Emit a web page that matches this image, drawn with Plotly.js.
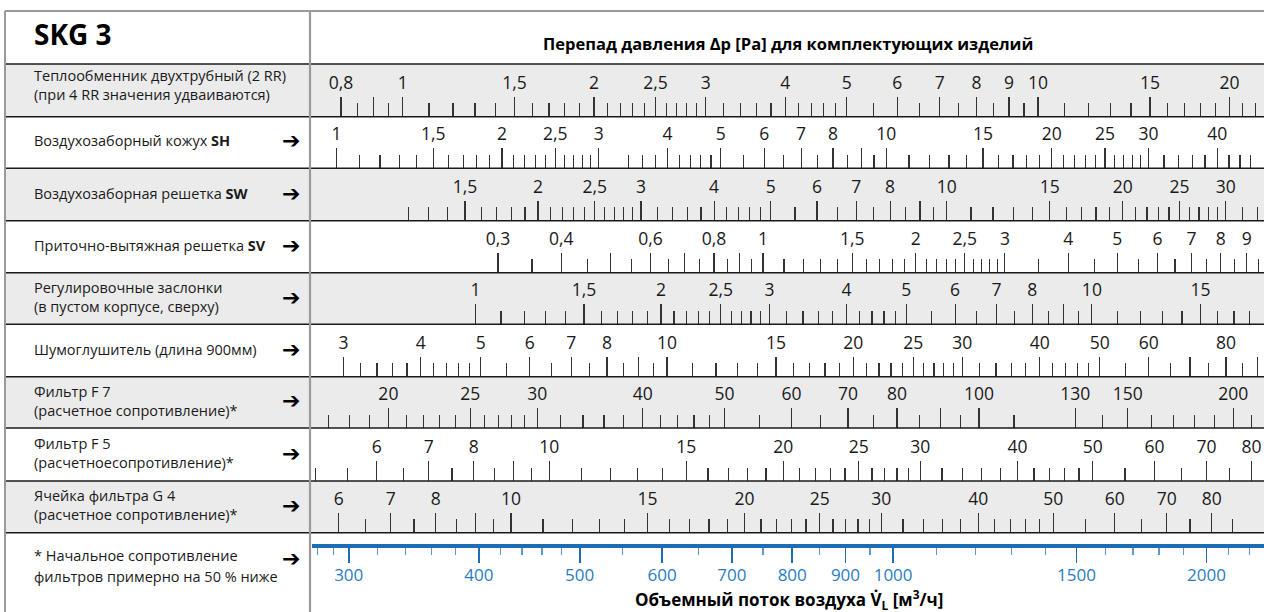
<!DOCTYPE html>
<html><head><meta charset="utf-8">
<script src="https://cdn.plot.ly/plotly-3.0.1.min.js"></script>
<style>html,body{margin:0;padding:0;background:#fff;overflow:hidden}#chart{width:1264px;height:612px}</style>
</head><body><div id="chart"></div>
<script>
// ---------------- DATA ----------------
// Flow axis (air volume flow, m3/h)
const flowWindow = [276.6, 2271];
const flowTicks  = [300, 400, 500, 600, 700, 800, 900, 1000, 1500, 2000];
const flowLabels = ['300','400','500','600','700','800','900','1000','1500','2000'];
const flowMinor  = [280,290,320,340,360,380,420,440,460,480,550,650,750,850,950,1100,1200,1300,1400,1600,1700,1800,1900,2100,2200];

// Row names (left column)
const rowNames = [
  'Теплообменник двухтрубный (2 RR)<br>(при 4 RR значения удваиваются)',
  'Воздухозаборный кожух <b>SH</b>',
  'Воздухозаборная решетка <b>SW</b>',
  'Приточно-вытяжная решетка <b>SV</b>',
  'Регулировочные заслонки<br>(в пустом корпусе, сверху)',
  'Шумоглушитель (длина 900мм)',
  'Фильтр F 7<br>(расчетное сопротивление)*',
  'Фильтр F 5<br>(расчетноесопротивление)*',
  'Ячейка фильтра G 4<br>(расчетное сопротивление)*'
];
const rowArrows = [false, true, true, true, true, true, true, true, true];
const footLines = ['* Начальное сопротивление', 'фильтров примерно на 50 % ниже'];
const titleText = 'Перепад давления Δp [Pa] для комплектующих изделий';
const unitTitle = 'SKG 3';
const flowTitle = 'Объемный поток воздуха V̇<sub>L</sub> [м<sup>3</sup>/ч]';

// Each scale: labelled long ticks, their labels, unlabelled long ticks, short ticks,
// and a match [value1, flow1, value2, flow2] tying the scale to the flow axis
const hxTicks  = [0.8,1,1.5,2,2.5,3,4,5,6,7,8,9,10,15,20];
const hxLabels = ['0,8','1','1,5','2','2,5','3','4','5','6','7','8','9','10','15','20'];
const hxLong   = [0.9];
const hxMinor  = [0.85,0.95,1.1,1.2,1.3,1.4,1.6,1.7,1.8,1.9,2.1,2.2,2.3,2.4,2.6,2.7,2.8,2.9,3.2,3.4,3.6,3.8,4.2,4.4,4.6,4.8,5.5,6.5,7.5,8.5,9.5,11,12,13,14,16,17,18,19,21,22];
const hxMatch  = [1, 338, 10, 1378];

const shTicks  = [1,1.5,2,2.5,3,4,5,6,7,8,10,15,20,25,30,40];
const shLabels = ['1','1,5','2','2,5','3','4','5','6','7','8','10','15','20','25','30','40'];
const shLong   = [9];
const shMinor  = [1.1,1.2,1.3,1.4,1.6,1.7,1.8,1.9,2.1,2.2,2.3,2.4,2.6,2.7,2.8,2.9,3.4,3.6,3.8,4.2,4.4,4.6,4.8,5.5,6.5,7.5,8.5,9.5,11,12,13,14,16,17,18,19,21,22,23,24,26,27,28,29,32,34,36,38,42,44,46];
const shMatch  = [1, 292, 10, 985];

const swTicks  = [1.5,2,2.5,3,4,5,6,7,8,10,15,20,25,30];
const swLabels = ['1,5','2','2,5','3','4','5','6','7','8','10','15','20','25','30'];
const swLong   = [9];
const swMinor  = [1.2,1.3,1.4,1.6,1.7,1.8,1.9,2.1,2.2,2.3,2.4,2.6,2.7,2.8,2.9,3.2,3.4,3.6,3.8,4.2,4.4,4.6,4.8,5.5,6.5,7.5,8.5,9.5,11,12,13,14,16,17,18,19,21,22,23,24,26,27,28,29,32,34];
const swMatch  = [1, 309, 10, 1126];

const svTicks  = [0.3,0.4,0.6,0.8,1,1.5,2,2.5,3,4,5,6,7,8,9];
const svLabels = ['0,3','0,4','0,6','0,8','1','1,5','2','2,5','3','4','5','6','7','8','9'];
const svLong   = [0.5,0.7,0.9];
const svMinor  = [0.35,0.45,0.55,0.65,0.75,0.85,0.95,1.1,1.2,1.3,1.4,1.6,1.7,1.8,1.9,2.1,2.2,2.3,2.4,2.6,2.7,2.8,2.9,3.5,4.5,5.5,6.5,7.5,8.5,9.5];
const svMatch  = [1, 750, 10, 2301];

const rkTicks  = [1,1.5,2,2.5,3,4,5,6,7,8,10,15];
const rkLabels = ['1','1,5','2','2,5','3','4','5','6','7','8','10','15'];
const rkLong   = [9];
const rkMinor  = [1.1,1.2,1.3,1.4,1.6,1.7,1.8,1.9,2.1,2.2,2.3,2.4,2.6,2.7,2.8,2.9,3.2,3.4,3.6,3.8,4.2,4.4,4.6,4.8,5.5,6.5,7.5,8.5,9.5,11,12,13,14,16,17,18];
const rkMatch  = [1, 397, 10, 1552];

const sdTicks  = [3,4,5,6,7,8,10,15,20,25,30,40,50,60,80];
const sdLabels = ['3','4','5','6','7','8','10','15','20','25','30','40','50','60','80'];
const sdLong   = [9,70,90];
const sdMinor  = [3.2,3.4,3.6,3.8,4.2,4.4,4.6,4.8,5.5,6.5,7.5,8.5,9.5,11,12,13,14,16,17,18,19,21,22,23,24,26,27,28,29,32,34,36,38,42,44,46,48,55,65,75,85];
const sdMatch  = [10, 606.5, 100, 2384];

const f7Ticks  = [20,25,30,40,50,60,70,80,100,130,150,200];
const f7Labels = ['20','25','30','40','50','60','70','80','100','130','150','200'];
const f7Long   = [90];
const f7Minor  = [17,18,19,21,22,23,24,26,27,28,29,32,34,36,38,42,44,46,48,55,65,75,85,95,110,140,160,170,180,190,210];
const f7Match  = [10, 186.6, 100, 1209];

const f5Ticks  = [6,7,8,10,15,20,25,30,40,50,60,70,80];
const f5Labels = ['6','7','8','10','15','20','25','30','40','50','60','70','80'];
const f5Long   = [9];
const f5Minor  = [5,5.5,6.5,7.5,8.5,9.5,11,12,13,14,16,17,18,19,21,22,23,24,26,27,28,29,32,34,36,38,42,44,46,48,55,65,75,85];
const f5Match  = [10, 467.4, 100, 2610];

const g4Ticks  = [6,7,8,10,15,20,25,30,40,50,60,70,80];
const g4Labels = ['6','7','8','10','15','20','25','30','40','50','60','70','80'];
const g4Long   = [9];
const g4Minor  = [6.5,7.5,8.5,9.5,11,12,13,14,16,17,18,19,21,22,23,24,26,27,28,29,32,34,36,38,42,44,46,48,55,65,75,85];
const g4Match  = [10, 429.5, 100, 2389];

// ---------------- LAYOUT GEOMETRY ----------------
const W = 1264, H = 612;
const LEFT = 5, DIV = 310, AX_L = 312, TOP = 11, TEXT_X = 32, ARROW_X = 291;
const EDGES = [64, 116.7, 168.3, 220.7, 272.7, 324.3, 376.7, 428, 481, 532.7];
const FLOW_Y = 546.3;
const FONT = '"Open Sans", "Noto Sans", sans-serif';
const INK = '#1a1a1a';
const TICK = '#333333';
const BLUE = '#1c6db3', BLUE_TXT = '#2a7cc2', BLUE_MINOR = '#5b9bd2';
const GRAY_BG = '#ebebeb', BORDER_GRAY = '#9a9a9a';

const px = x => x / W;
const py = y => 1 - y / H;

const scales = [
  [hxTicks, hxLabels, hxLong, hxMinor, hxMatch],
  [shTicks, shLabels, shLong, shMinor, shMatch],
  [swTicks, swLabels, swLong, swMinor, swMatch],
  [svTicks, svLabels, svLong, svMinor, svMatch],
  [rkTicks, rkLabels, rkLong, rkMinor, rkMatch],
  [sdTicks, sdLabels, sdLong, sdMinor, sdMatch],
  [f7Ticks, f7Labels, f7Long, f7Minor, f7Match],
  [f5Ticks, f5Labels, f5Long, f5Minor, f5Match],
  [g4Ticks, g4Labels, g4Long, g4Minor, g4Match]
];

const L0 = Math.log10(flowWindow[0]), L1 = Math.log10(flowWindow[1]);
function rowRange(m) {
  const v1 = m[0], f1 = m[1], v2 = m[2], f2 = m[3];
  const n = Math.log10(v2 / v1) / Math.log10(f2 / f1);
  const g = L => Math.log10(v1) + n * (L - Math.log10(f1));
  return [g(L0), g(L1)];
}

const traces = [];
const layout = {
  width: W, height: H,
  margin: {l: 0, r: 0, t: 0, b: 0, pad: 0},
  paper_bgcolor: '#ffffff', plot_bgcolor: 'rgba(0,0,0,0)',
  showlegend: false, hovermode: false,
  font: {family: FONT, color: INK},
  yaxis: {domain: [0, 1], range: [0, 1], visible: false, fixedrange: true},
  xaxis: {
    type: 'log', domain: [px(AX_L), 1], range: [L0, L1],
    anchor: 'free', position: py(FLOW_Y), side: 'bottom',
    showline: true, linecolor: BLUE, linewidth: 4,
    showgrid: false, zeroline: false, fixedrange: true,
    ticks: 'outside', ticklen: 15, tickwidth: 1.6, tickcolor: BLUE,
    tickmode: 'array', tickvals: flowTicks, ticktext: flowLabels, tickangle: 0,
    ticklabelstandoff: -3,
    tickfont: {family: FONT, size: 17, color: BLUE_TXT},
    minor: {tickmode: 'array', tickvals: flowMinor, ticks: 'outside', ticklen: 7, tickwidth: 1.2, tickcolor: BLUE_MINOR, showgrid: false}
  },
  shapes: [], annotations: []
};
traces.push({type: 'scatter', mode: 'markers', x: flowTicks, y: flowTicks.map(() => 0.5), xaxis: 'x', yaxis: 'y', marker: {opacity: 0}, hoverinfo: 'skip'});

let axId = 2;
scales.forEach((s, i) => {
  const range = rowRange(s[4]);
  const pos = py(EDGES[i + 1]);
  const main = axId++;
  layout['xaxis' + main] = {
    type: 'log', overlaying: 'x', domain: [px(AX_L), 1], range: range,
    anchor: 'free', position: pos, side: 'top',
    showline: false, showgrid: false, zeroline: false, fixedrange: true,
    ticks: 'outside', ticklen: 20, tickwidth: 1.2, tickcolor: TICK,
    tickmode: 'array', tickvals: s[0], ticktext: s[1], tickangle: 0,
    ticklabelstandoff: 1,
    tickfont: {family: FONT, size: 17.5, color: INK},
    minor: {tickmode: 'array', tickvals: s[3], ticks: 'outside', ticklen: 13.5, tickwidth: 1.2, tickcolor: TICK, showgrid: false}
  };
  traces.push({type: 'scatter', mode: 'markers', x: s[0], y: s[0].map(() => 0.5), xaxis: 'x' + main, yaxis: 'y', marker: {opacity: 0}, hoverinfo: 'skip'});
  const extra = axId++;
  layout['xaxis' + extra] = {
    type: 'log', overlaying: 'x', domain: [px(AX_L), 1], range: range,
    anchor: 'free', position: pos, side: 'top',
    showline: false, showgrid: false, zeroline: false, fixedrange: true, showticklabels: false,
    ticks: 'outside', ticklen: 20, tickwidth: 1.2, tickcolor: TICK,
    tickmode: 'array', tickvals: s[2]
  };
  traces.push({type: 'scatter', mode: 'markers', x: s[2], y: s[2].map(() => 0.5), xaxis: 'x' + extra, yaxis: 'y', marker: {opacity: 0}, hoverinfo: 'skip'});
});

// backgrounds
for (let i = 0; i < 9; i += 2) {
  layout.shapes.push({type: 'rect', xref: 'paper', yref: 'paper', layer: 'below',
    x0: px(LEFT), x1: 1, y0: py(EDGES[i + 1]), y1: py(EDGES[i]), fillcolor: GRAY_BG, line: {width: 0}});
}
// horizontal borders
EDGES.forEach(e => layout.shapes.push({type: 'line', xref: 'paper', yref: 'paper', layer: 'above',
  x0: px(LEFT), x1: 1, y0: py(e), y1: py(e), line: {color: INK, width: 1.6}}));
// outer gray borders + divider
layout.shapes.push({type: 'line', xref: 'paper', yref: 'paper', x0: px(LEFT), x1: 1, y0: py(TOP), y1: py(TOP), line: {color: BORDER_GRAY, width: 2}});
layout.shapes.push({type: 'line', xref: 'paper', yref: 'paper', x0: px(LEFT), x1: px(LEFT), y0: py(TOP), y1: 0, line: {color: BORDER_GRAY, width: 2}});
layout.shapes.push({type: 'line', xref: 'paper', yref: 'paper', x0: px(DIV), x1: px(DIV), y0: py(TOP), y1: 0, line: {color: BORDER_GRAY, width: 2.2}});

// texts
const A = layout.annotations;
const ARROW = '➔';
const ARROW_FONT = {family: 'DejaVu Sans', size: 22, color: '#000'};
A.push({xref: 'paper', yref: 'paper', x: px(TEXT_X), y: py(34), xanchor: 'left', yanchor: 'middle', showarrow: false,
  text: '<b>' + unitTitle + '</b>', font: {family: FONT, size: 28, color: '#000'}});
A.push({xref: 'paper', yref: 'paper', x: px((AX_L + W) / 2), y: py(44), xanchor: 'center', yanchor: 'middle', showarrow: false,
  text: '<b>' + titleText + '</b>', font: {family: FONT, size: 16.5, color: '#000'}});
rowNames.forEach((t, i) => {
  const yc = (EDGES[i] + EDGES[i + 1]) / 2 - (i === 0 ? 5 : 1.5);
  A.push({xref: 'paper', yref: 'paper', x: px(TEXT_X), y: py(yc), xanchor: 'left', yanchor: 'middle', align: 'left', showarrow: false,
    text: t, font: {family: FONT, size: 14.5, color: INK}});
  if (rowArrows[i]) A.push({xref: 'paper', yref: 'paper', x: px(ARROW_X), y: py(yc), xanchor: 'center', yanchor: 'middle', showarrow: false,
    text: ARROW, font: ARROW_FONT});
});
A.push({xref: 'paper', yref: 'paper', x: px(TEXT_X), y: py(555), xanchor: 'left', yanchor: 'middle', showarrow: false,
  text: footLines[0], font: {family: FONT, size: 14.5, color: INK}});
A.push({xref: 'paper', yref: 'paper', x: px(TEXT_X), y: py(576), xanchor: 'left', yanchor: 'middle', showarrow: false,
  text: footLines[1], font: {family: FONT, size: 14.5, color: INK}});
A.push({xref: 'paper', yref: 'paper', x: px(ARROW_X), y: py(558), xanchor: 'center', yanchor: 'middle', showarrow: false,
  text: ARROW, font: ARROW_FONT});
A.push({xref: 'paper', yref: 'paper', x: px(789), y: py(599), xanchor: 'center', yanchor: 'middle', showarrow: false,
  text: '<b>' + flowTitle + '</b>', font: {family: FONT, size: 17, color: '#000'}});

Plotly.newPlot('chart', traces, layout, {displayModeBar: false, staticPlot: true});
</script>
</body></html>
